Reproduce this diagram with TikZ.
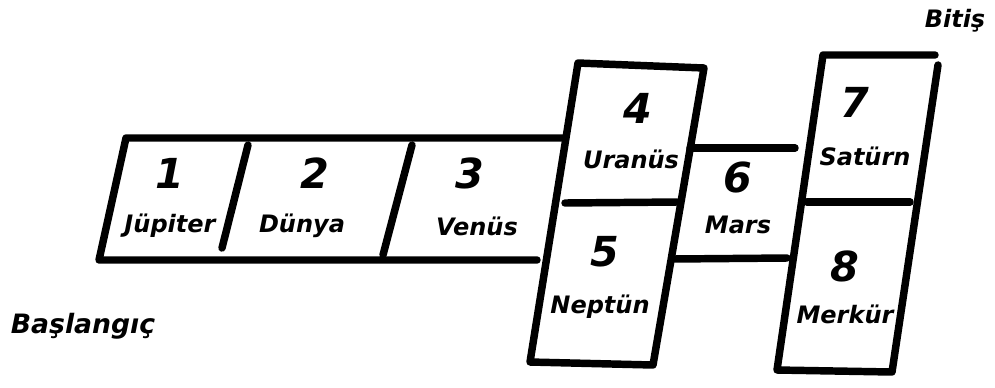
\documentclass[tikz,border=0pt]{standalone}
\usepackage{fontspec}
\setmainfont{DejaVu Sans}
\begin{document}
\begin{tikzpicture}[x=0.75pt,y=-0.75pt,
  edge/.style={line width=5.6pt,line cap=round,line join=round},
  num/.style={inner sep=0pt,font=\fontsize{31}{31}\selectfont\bfseries\itshape},
  lbl/.style={inner sep=0pt,anchor=base,font=\fontsize{18}{18}\selectfont\bfseries\itshape},
  big/.style={inner sep=0pt,anchor=base,font=\fontsize{20}{20}\selectfont\bfseries\itshape}]
\useasboundingbox (0,0) rectangle (995,387);
% corner coordinates
\coordinate (s1) at (126,138);
\coordinate (s2) at (563,138);
\coordinate (s3) at (99,260);
\coordinate (s4) at (537,260);
\coordinate (b1) at (578,63);
\coordinate (b2) at (704,68);
\coordinate (b3) at (653,365);
\coordinate (b4) at (530,362);
\coordinate (c1) at (823,55);
\coordinate (c2) at (935,55);
\coordinate (c3) at (938,65);
\coordinate (c4) at (892,372);
\coordinate (c5) at (777,370);
% strip 1-3
\draw[edge] (s2) -- (s1) -- (s3) -- (s4);
\draw[edge] (248,145) -- (222,248);
\draw[edge] (412,145) -- (383,255);
% box 4/5
\draw[edge] (b1) -- (b2) -- (b3) -- (b4) -- cycle;
\draw[edge] (565,203) -- (677,202);
% Mars
\draw[edge] (690,148) -- (795,148);
\draw[edge] (673,259) -- (787,258);
% box 7/8
\draw[edge] (c2) -- (c1) -- (c5) -- (c4) -- (c3);
\draw[edge] (807,202) -- (910,202);
% texts
\node[num] (n1) at (170,173) {1};
\node[lbl] (l1) at (170,232) {Jüpiter};
\node[num] (n2) at (315,173) {2};
\node[lbl] (l2) at (302,232) {Dünya};
\node[num] (n3) at (470,173) {3};
\node[lbl] (l3) at (477,235) {Venüs};
\node[num] (n4) at (638,108) {4};
\node[lbl] (l4) at (631,168) {Uranüs};
\node[num] (n5) at (605,252) {5};
\node[lbl] (l5) at (600,313) {Neptün};
\node[num] (n6) at (738,177) {6};
\node[lbl] (l6) at (738,233) {Mars};
\node[num] (n7) at (855,102) {7};
\node[lbl] (l7) at (865,165) {Satürn};
\node[num] (n8) at (845,266) {8};
\node[lbl] (l8) at (845,323) {Merkür};
\node[lbl] (end) at (955,27) {Bitiş};
\node[big] (start) at (83,333) {Başlangıç};
\end{tikzpicture}
\end{document}
